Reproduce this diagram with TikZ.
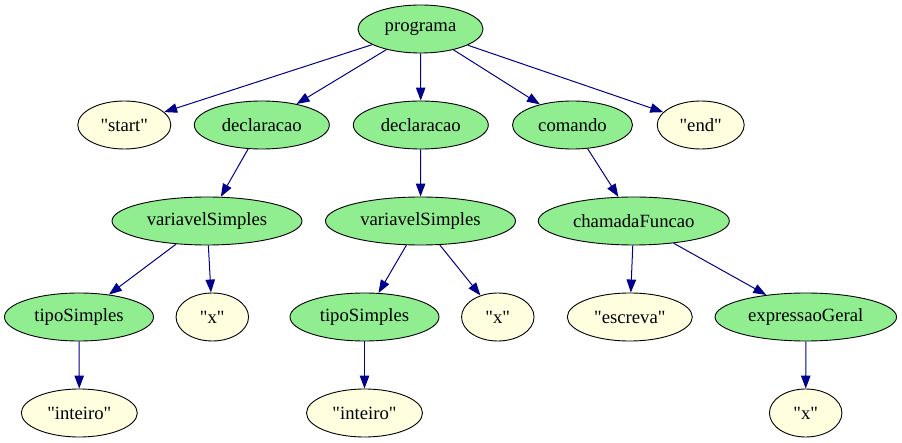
\documentclass[tikz,border=0pt]{standalone}
\usepackage{fontspec}
\setmainfont{Liberation Serif}[Ligatures=TeXOff]
\usetikzlibrary{shapes.geometric,arrows.meta}
\definecolor{gnode}{HTML}{90EE90}
\definecolor{ynode}{HTML}{FFFFE0}
\definecolor{edgeblue}{HTML}{00008B}
\tikzset{
  base/.style={ellipse,draw=black,line width=0.9pt,inner sep=0pt,minimum height=48pt,font=\fontsize{18.7}{20}\selectfont},
  nt/.style={base,fill=gnode},
  tm/.style={base,fill=ynode},
  edge/.style={draw=edgeblue,line width=1pt,-{Triangle[length=13pt,width=9.5pt]}}
}
\begin{document}
\begin{tikzpicture}[x=1pt,y=-1pt]
\useasboundingbox (0,0) rectangle (902,443);
\node[nt,minimum width=125pt] (prog) at (420.5,29) {programa};
\node[tm,minimum width=93pt] (start) at (124.3,125) {"start"};
\node[nt,minimum width=135pt] (dec1) at (261.8,125) {declaracao};
\node[nt,minimum width=135pt] (dec2) at (420.8,125) {declaracao};
\node[nt,minimum width=120pt] (cmd) at (572.5,125) {comando};
\node[tm,minimum width=87pt] (end) at (700.7,125) {"end"};
\node[nt,minimum width=190pt] (vs1) at (207,221) {variavelSimples};
\node[nt,minimum width=190pt] (vs2) at (420.5,221) {variavelSimples};
\node[nt,minimum width=191pt] (cf) at (633.8,221) {chamadaFuncao};
\node[nt,minimum width=149pt] (ts1) at (79,317) {tipoSimples};
\node[tm,minimum width=72.5pt] (x1) at (212.3,317) {"x"};
\node[nt,minimum width=149pt] (ts2) at (364.5,317) {tipoSimples};
\node[tm,minimum width=72.5pt] (x2) at (497.8,317) {"x"};
\node[tm,minimum width=125pt] (esc) at (629.8,317) {"escreva"};
\node[nt,minimum width=181.5pt] (eg) at (805.8,317) {expressaoGeral};
\node[tm,minimum width=116pt] (int1) at (79.3,413) {"inteiro"};
\node[tm,minimum width=116pt] (int2) at (364.5,413) {"inteiro"};
\node[tm,minimum width=72.5pt] (x3) at (805.7,413) {"x"};
\draw[edge] (prog) -- (start);
\draw[edge] (prog) -- (dec1);
\draw[edge] (prog) -- (dec2);
\draw[edge] (prog) -- (cmd);
\draw[edge] (prog) -- (end);
\draw[edge] (dec1) -- (vs1);
\draw[edge] (dec2) -- (vs2);
\draw[edge] (cmd) -- (cf);
\draw[edge] (vs1) -- (ts1);
\draw[edge] (vs1) -- (x1);
\draw[edge] (vs2) -- (ts2);
\draw[edge] (vs2) -- (x2);
\draw[edge] (cf) -- (esc);
\draw[edge] (cf) -- (eg);
\draw[edge] (ts1) -- (int1);
\draw[edge] (ts2) -- (int2);
\draw[edge] (eg) -- (x3);
\end{tikzpicture}
\end{document}
